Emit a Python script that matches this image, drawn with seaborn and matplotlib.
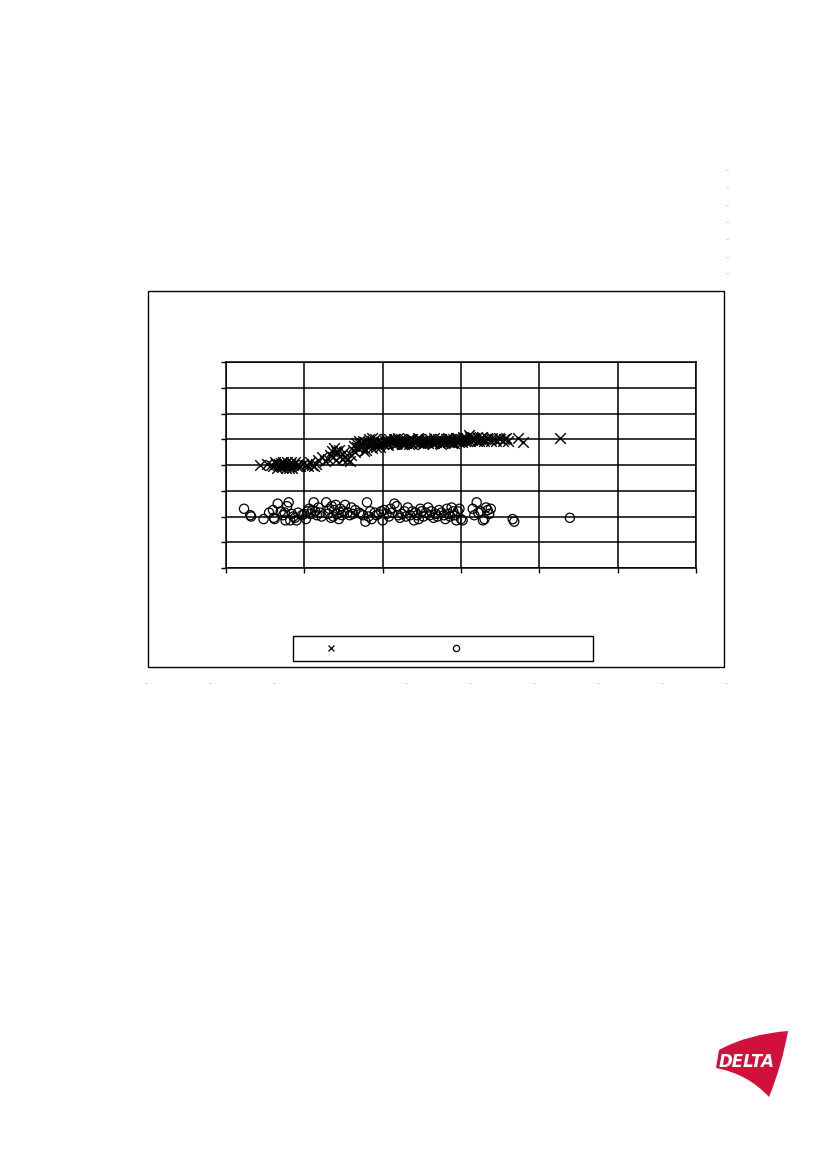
import matplotlib
matplotlib.use("Agg")
import matplotlib.pyplot as plt
from matplotlib.lines import Line2D
from matplotlib.patches import Rectangle, PathPatch
from matplotlib.path import Path
import seaborn as sns
import pandas as pd

# ---------------- data (grid units) ----------------
cross_x = [0.43, 0.52, 0.58, 0.60, 0.62, 0.65, 0.67, 0.70, 0.72, 0.74, 0.76, 0.78, 0.80, 0.82,
           0.84, 0.86, 0.88, 0.90, 0.92, 0.95, 0.70, 0.68, 0.75, 0.79, 0.83, 0.64, 0.73, 0.81,
           0.98, 1.02, 1.05, 1.07, 1.10, 1.12, 1.15, 1.18, 1.22,
           1.27, 1.30, 1.33, 1.35, 1.37, 1.40, 1.42, 1.44, 1.46, 1.48, 1.50, 1.52, 1.55, 1.58, 1.41, 1.38,
           1.60, 1.62, 1.63, 1.65, 1.66, 1.68, 1.70, 1.72, 1.74, 1.76, 1.78, 1.80, 1.82, 1.84, 1.86, 1.88,
           1.90, 1.92, 1.94, 1.96, 1.98, 1.67, 1.71, 1.75, 1.79, 1.83, 1.87, 1.91,
           2.00, 2.03, 2.05, 2.08, 2.10, 2.13, 2.15, 2.18, 2.20, 2.23, 2.25, 2.28, 2.30, 2.33, 2.35, 2.38,
           2.40, 2.43, 2.45, 2.48, 2.50, 2.53, 2.55, 2.58, 2.60, 2.63, 2.65, 2.68, 2.70, 2.73, 2.75, 2.78,
           2.80, 2.83, 2.85, 2.88, 2.90, 2.93, 2.95, 2.98,
           2.06, 2.16, 2.26, 2.36, 2.46, 2.56, 2.66, 2.76, 2.86, 2.96,
           1.95, 2.01, 2.04, 2.07, 2.11, 2.14, 2.17, 2.21, 2.24, 2.27,
           2.31, 2.34, 2.37, 2.41, 2.44, 2.47, 2.51, 2.54, 2.57, 2.61,
           2.64, 2.67, 2.71, 2.74, 2.77, 2.81, 2.84, 2.87, 2.91, 2.94,
           2.97, 3.01, 3.04, 3.08, 3.11, 3.14, 3.17, 3.21, 3.24, 3.27,
           3.00, 3.02, 3.05, 3.07, 3.10, 3.12, 3.15, 3.18, 3.20, 3.23, 3.25, 3.28, 3.30, 3.33, 3.35, 3.38,
           3.40, 3.43, 3.45, 3.48, 3.50, 3.53, 3.55, 3.58, 3.60,
           3.73, 3.79, 4.26]
cross_y = [4.00, 4.05, 4.00, 3.95, 4.10, 3.90, 4.00, 4.08, 3.92, 4.02, 3.88, 4.12, 3.95, 4.05,
           3.90, 4.00, 4.10, 3.95, 4.05, 3.98, 3.95, 4.05, 3.98, 4.00, 4.10, 4.03, 4.10, 3.90,
           4.05, 4.00, 3.95, 4.10, 4.00, 3.95, 4.05, 4.20, 4.30,
           4.15, 4.25, 4.40, 4.55, 4.30, 4.20, 4.45, 4.60, 4.35, 4.25, 4.50, 4.30, 4.20, 4.15, 4.55, 4.65,
           4.40, 4.60, 4.75, 4.50, 4.85, 4.65, 4.95, 4.70, 4.85, 4.55, 4.90, 4.75, 5.00, 4.80, 4.65, 4.90,
           5.00, 4.80, 4.95, 4.70, 4.90, 4.70, 4.80, 4.95, 4.60, 4.90, 5.05, 4.70,
           4.85, 4.95, 4.80, 5.00, 4.90, 4.80, 4.95, 4.85, 5.05, 4.90, 4.80, 4.95, 4.85, 5.00, 4.90, 4.80,
           4.95, 4.90, 5.05, 4.85, 4.95, 4.90, 5.00, 4.85, 4.95, 4.90, 5.05, 4.90, 4.95, 4.85, 5.00, 4.95,
           4.90, 5.05, 4.95, 4.85, 5.00, 4.95, 5.05, 4.90,
           4.90, 5.00, 4.90, 5.00, 4.90, 4.95, 4.85, 4.90, 5.00, 4.95,
           4.78, 4.82, 5.00, 4.78, 4.95, 5.02, 4.80, 4.92, 5.00, 4.82,
           4.95, 4.80, 5.00, 4.85, 4.95, 5.00, 4.82, 4.98, 4.88, 5.02,
           4.85, 4.95, 5.00, 4.80, 4.90, 5.00, 4.88, 4.95, 4.85, 5.05,
           4.98, 4.90, 5.05, 4.95, 5.10, 4.98, 5.05, 4.92, 5.00, 5.10,
           5.00, 5.10, 4.95, 5.05, 5.15, 4.95, 5.05, 5.00, 5.10, 4.95, 5.05, 5.00, 4.95, 5.05, 5.00, 4.95,
           5.05, 5.00, 4.95, 5.05, 5.00, 4.95, 5.00, 5.05, 4.95,
           5.05, 4.90, 5.05]

circle_x = [0.23, 0.31, 0.32, 0.48, 0.55, 0.60, 0.61, 0.62, 0.66, 0.70, 0.73, 0.75, 0.76, 0.78,
            0.80, 0.82, 0.84, 0.86, 0.88, 0.90, 0.92, 0.97, 1.00, 1.02, 1.04, 1.06, 1.08, 1.10,
            1.12, 1.14, 1.16, 1.18, 1.20, 1.22, 1.28, 1.30, 1.32, 1.34, 1.35, 1.37, 1.38, 1.40,
            1.42, 1.44, 1.46, 1.48, 1.50, 1.52, 1.55, 1.58, 1.60, 1.62, 1.65, 1.70, 1.72, 1.75,
            1.78, 1.80, 1.82, 1.84, 1.86, 1.90, 1.92, 1.95, 1.98, 2.00, 2.02, 2.05, 2.08, 2.10,
            2.12, 2.15, 2.18, 2.20, 2.22, 2.25, 2.28, 2.30, 2.32, 2.35, 2.38, 2.40, 2.42, 2.44,
            2.46, 2.48, 2.50, 2.52, 2.55, 2.58, 2.60, 2.62, 2.65, 2.68, 2.70, 2.72, 2.75, 2.78,
            2.80, 2.82, 2.84, 2.86, 2.88, 2.90, 2.92, 2.94, 2.96, 2.98, 3.00, 3.02, 3.15, 3.17,
            3.20, 3.22, 3.25, 3.28, 3.30, 3.32, 3.34, 3.36, 3.38, 3.66, 3.68, 4.39]
circle_y = [2.30, 2.05, 2.00, 1.90, 2.15, 2.25, 1.95, 1.90, 2.50, 2.20, 2.05, 2.15, 1.85, 2.40,
            2.55, 1.85, 2.10, 2.00, 1.95, 1.85, 2.15, 2.05, 2.10, 1.90, 2.20, 2.30, 2.10, 2.25,
            2.55, 2.20, 2.05, 2.35, 2.15, 2.00, 2.55, 2.10, 2.30, 1.95, 2.40, 2.00, 2.25, 2.45,
            2.10, 1.90, 2.30, 2.05, 2.20, 2.45, 2.15, 2.05, 2.35, 2.10, 2.25, 2.15, 2.10, 2.05,
            1.80, 2.55, 2.00, 2.20, 1.90, 2.15, 2.05, 2.10, 2.20, 1.85, 2.25, 2.10, 2.00, 2.30,
            2.15, 2.50, 2.40, 2.05, 1.95, 2.10, 2.20, 2.00, 2.35, 2.05, 2.20, 1.85, 2.15, 2.05,
            1.90, 2.30, 2.20, 2.00, 2.15, 2.35, 2.05, 2.20, 1.95, 2.10, 2.00, 2.25, 2.15, 2.05,
            1.90, 2.30, 2.10, 2.00, 2.35, 2.20, 2.05, 1.85, 2.20, 2.30, 1.90, 1.85, 2.30, 2.05,
            2.55, 2.15, 2.20, 1.85, 1.90, 2.35, 2.25, 2.10, 2.30, 1.90, 1.80, 1.95]

x_ticks = [0, 1, 2, 3, 4, 5, 6]
y_ticks = [0, 1, 2, 3, 4, 5, 6, 7, 8]
series_labels = ["", ""]

cross_df = pd.DataFrame({"x": cross_x, "y": cross_y})
circle_df = pd.DataFrame({"x": circle_x, "y": circle_y})

# ---------------- figure ----------------
sns.set_style("white")
plt.rcParams["font.family"] = ["DejaVu Sans"]

W, H = 827, 1169
fig = plt.figure(figsize=(W / 100, H / 100), dpi=100)
fig.patch.set_facecolor("white")


def fx(px):
    return px / W


def fy(py):
    return 1 - py / H


# outer chart box
fig.add_artist(Rectangle((fx(148), fy(667)), (724 - 148) / W, (667 - 291) / H,
                         transform=fig.transFigure, fill=False, edgecolor="black", linewidth=1.0))

ax = fig.add_axes([fx(226), fy(568), (696 - 226) / W, (568 - 362) / H])
ax.set_facecolor("white")

sns.scatterplot(data=cross_df, x="x", y="y", ax=ax, marker="x", color="black",
                s=58, linewidth=1.0, legend=False, zorder=3)
sns.scatterplot(data=circle_df, x="x", y="y", ax=ax, marker="o", facecolor="none",
                edgecolor="black", s=44, linewidth=0.9, legend=False, zorder=3)

ax.set_xlim(x_ticks[0], x_ticks[-1])
ax.set_ylim(y_ticks[0], y_ticks[-1])
ax.set_xticks(x_ticks)
ax.set_yticks(y_ticks)
ax.set_xticklabels([])
ax.set_yticklabels([])
ax.set_xlabel("")
ax.set_ylabel("")
ax.grid(True, color="black", linewidth=1.1)
ax.set_axisbelow(True)
ax.tick_params(axis="both", direction="out", length=3.5, width=1.0, color="black",
               bottom=True, left=True)
for sp in ax.spines.values():
    sp.set_color("black")
    sp.set_linewidth(1.1)

# legend
fig.add_artist(Rectangle((fx(293), fy(661)), (593 - 293) / W, (661 - 636) / H,
                         transform=fig.transFigure, fill=False, edgecolor="black", linewidth=1.0))
handles = [Line2D([], [], marker="x", color="black", linestyle="none", markersize=4.5,
                  markeredgewidth=0.9),
           Line2D([], [], marker="o", color="black", markerfacecolor="none", linestyle="none",
                  markersize=4.5, markeredgewidth=0.9)]
fig.legend(handles, series_labels, loc="center left", bbox_to_anchor=(fx(293), fy(648.5)),
           ncol=2, frameon=False, fontsize=10, borderpad=0.5, handlelength=4.4,
           handletextpad=0.5, columnspacing=4.13, borderaxespad=0)

# faint page marks
for py in [170, 187, 205, 222, 239, 257, 273]:
    fig.add_artist(Line2D([fx(726), fx(727.5)], [fy(py), fy(py)], transform=fig.transFigure,
                          color="#d8d8d8", linewidth=0.8))
for px in [146, 210, 274, 406, 470, 534, 598, 662, 726]:
    fig.add_artist(Line2D([fx(px - 1), fx(px + 1)], [fy(683), fy(683)], transform=fig.transFigure,
                          color="#d8d8d8", linewidth=0.8))

# DELTA logo
pts = [(719, 1050), (748, 1034), (788, 1031), (782, 1065), (769, 1097),
       (748, 1074), (716, 1068), (719, 1050)]
codes = [Path.MOVETO, Path.CURVE3, Path.CURVE3, Path.CURVE3, Path.CURVE3,
         Path.CURVE3, Path.CURVE3, Path.CLOSEPOLY]
path = Path([(fx(a), fy(b)) for a, b in pts], codes)
fig.add_artist(PathPatch(path, transform=fig.transFigure, facecolor="#d2103c", edgecolor="none"))
fig.text(fx(747), fy(1062), "DELTA", color="white", fontsize=12, fontweight="bold",
         fontstyle="italic", ha="center", va="center")

fig.savefig("out.png", dpi=100, facecolor="white")
